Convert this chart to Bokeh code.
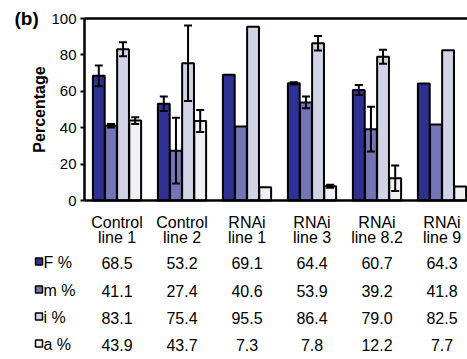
from bokeh.plotting import figure
from bokeh.models import (ColumnDataSource, Whisker, TeeHead, Label,
                          FixedTicker, LinearAxis)
from bokeh.core.properties import value
from bokeh.embed import file_html
from bokeh.resources import INLINE

# ---- data ----
categories = ["Control\nline 1", "Control\nline 2", "RNAi\nline 1",
              "RNAi\nline 3", "RNAi\nline 8.2", "RNAi\nline 9"]
series_names = ["F %", "m %", "i %", "a %"]
f_vals = [68.5, 53.2, 69.1, 64.4, 60.7, 64.3]
m_vals = [41.1, 27.4, 40.6, 53.9, 39.2, 41.8]
i_vals = [83.1, 75.4, 95.5, 86.4, 79.0, 82.5]
a_vals = [43.9, 43.7, 7.3, 7.8, 12.2, 7.7]
f_err = [5.7, 4.0, 0.0, 0.6, 2.7, 0.0]
m_err = [1.0, 18.0, 0.0, 3.2, 12.3, 0.0]
i_err = [3.8, 20.7, 0.0, 4.0, 3.8, 0.0]
a_err = [1.8, 6.0, 0.0, 0.8, 7.0, 0.0]
y_ticks = [0, 20, 40, 60, 80, 100]

series_vals = [f_vals, m_vals, i_vals, a_vals]
series_errs = [f_err, m_err, i_err, a_err]
colors = ["#2e3192", "#7474b6", "#d3d3e6", "#f1f1f4"]
offsets = [-0.28, -0.093, 0.093, 0.28]
bar_w = 0.182

FONT = "Liberation Sans"
W, H = 467, 359
AX_LEFT, AX_TOP, AX_BOTTOM = 84, 18, 200   # pixel position of the axes box
PX_PER_X = 65.0
PX_PER_Y = (AX_BOTTOM - AX_TOP) / 100.0
X_END = (W - AX_LEFT) / PX_PER_X

def px_x(px):
    return (px - AX_LEFT) / PX_PER_X

def px_y(py):
    return (AX_BOTTOM - py) / PX_PER_Y

centers = [0.5 + k for k in range(len(categories))]

p = figure(width=W, height=H, output_backend="svg", toolbar_location=None,
           x_range=(px_x(0), px_x(W)), y_range=(px_y(H), px_y(0)),
           min_border=0, min_border_left=0, min_border_right=0,
           min_border_top=0, min_border_bottom=0, outline_line_color=None,
           background_fill_color="white", border_fill_color="white")
p.xgrid.visible = False
p.ygrid.visible = False

for vals, errs, col, off in zip(series_vals, series_errs, colors, offsets):
    xs = [c + off for c in centers]
    src = ColumnDataSource(dict(x=xs, top=vals))
    p.vbar(x="x", top="top", bottom=0, width=bar_w, source=src,
           fill_color=col, line_color="black", line_width=2)
    ex = [x for x, e in zip(xs, errs) if e > 0]
    up = [v + e for v, e in zip(vals, errs) if e > 0]
    lo = [v - e for v, e in zip(vals, errs) if e > 0]
    wsrc = ColumnDataSource(dict(base=ex, upper=up, lower=lo))
    wk = Whisker(base="base", upper="upper", lower="lower", source=wsrc,
                 line_color="black", line_width=2, level="annotation",
                 upper_head=TeeHead(size=8, line_width=2, line_color="black"),
                 lower_head=TeeHead(size=8, line_width=2, line_color="black"))
    p.add_layout(wk)

# y axis fixed at x = 0
ya = p.yaxis[0]
ya.fixed_location = 0
ya.bounds = (0, 100)
ya.ticker = FixedTicker(ticks=y_ticks)
ya.minor_tick_line_color = None
ya.major_tick_out = 4
ya.major_tick_in = 0
ya.major_tick_line_width = 2
ya.axis_line_width = 2.5
ya.axis_line_color = "black"
ya.major_label_text_font = FONT
ya.major_label_text_font_size = "15px"
ya.major_label_text_color = "black"
ya.major_label_standoff = 4
ya.axis_label = "Percentage"
ya.axis_label_text_font = FONT
ya.axis_label_text_font_style = "bold"
ya.axis_label_text_font_size = "16px"
ya.axis_label_text_color = "black"
ya.axis_label_standoff = 0

# x axis fixed at y = 0
xa = p.xaxis[0]
xa.fixed_location = 0
xa.bounds = (0, X_END)
xa.ticker = FixedTicker(ticks=centers)
xa.major_label_overrides = {c: lab for c, lab in zip(centers, categories)}
xa.minor_tick_line_color = None
xa.major_tick_line_color = None
xa.axis_line_width = 2.5
xa.axis_line_color = "black"
xa.major_label_text_font = FONT
xa.major_label_text_font_size = "16px"
xa.major_label_text_color = "black"
xa.major_label_text_line_height = 0.9
xa.major_label_standoff = 7

# top border of the axes box
top_axis = LinearAxis(fixed_location=100, bounds=(0, X_END),
                      ticker=FixedTicker(ticks=[]), axis_line_width=2.5,
                      axis_line_color="black", major_tick_line_color=None,
                      minor_tick_line_color=None)
p.add_layout(top_axis, "above")

# panel label
p.add_layout(Label(x=px_x(14), y=px_y(18), text="(b)", text_font=FONT,
                   text_font_style="bold", text_font_size="19px",
                   text_align="left", text_baseline="middle",
                   text_color="black"))

# table below chart
row_py = [262, 290, 317, 344]
rows_x, rows_y, rows_t = [], [], []
for r, vals in enumerate(series_vals):
    for c, v in zip(centers, vals):
        rows_x.append(c)
        rows_y.append(px_y(row_py[r]))
        rows_t.append(f"{v:.1f}")
tsrc = ColumnDataSource(dict(x=rows_x, y=rows_y, t=rows_t))
p.text(x="x", y="y", text="t", source=tsrc, text_font=value(FONT),
       text_font_size="16px", text_align="center", text_baseline="middle",
       text_color="black")

lsrc = ColumnDataSource(dict(x=[px_x(43)] * 4, y=[px_y(py) for py in row_py],
                             t=series_names))
p.text(x="x", y="y", text="t", source=lsrc, text_font=value(FONT),
       text_font_size="16px", text_align="left", text_baseline="middle",
       text_color="black")

ssrc = ColumnDataSource(dict(x=[px_x(38.5)] * 4,
                             y=[px_y(py - 1) for py in row_py], c=colors))
p.scatter(x="x", y="y", source=ssrc, marker="square", size=7,
          fill_color="c", line_color="black", line_width=1.5)

open("out.html", "w").write(file_html(p, INLINE))
